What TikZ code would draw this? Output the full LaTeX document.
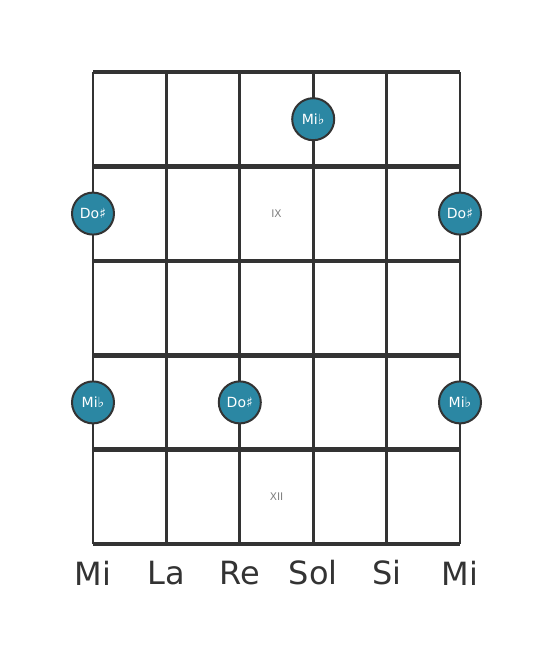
\documentclass[tikz,border=0pt]{standalone}
\usepackage{fontspec}
\setmainfont{DejaVu Sans}
\usepackage{xcolor}
\usetikzlibrary{positioning,calc}
\definecolor{nota}{HTML}{2B87A3}
\definecolor{traco}{HTML}{333333}
\tikzset{
    corda/.style={traco, line width=2.8pt},
    traste/.style={traco, line width=4.6pt},
    notabola/.style={circle, fill=nota, draw=traco, line width=2pt, minimum size=42pt, inner sep=0pt, text=white, font=\fontsize{14}{16}\selectfont},
    casa/.style={text=gray, font=\fontsize{10.5}{12}\selectfont},
    nomecorda/.style={text=traco, font=\fontsize{32}{35}\selectfont}
}
\begin{document}
\begin{tikzpicture}[x=1pt, y=-1pt]
        \useasboundingbox (0,0) rectangle (553,656);
        % Braço: cordas e trastes
        \def\cx{93}
        \def\dx{73.4}
        \def\ty{72}
        \def\dy{94.4}
        \foreach \i in {0,...,5}
            \draw[corda] (\cx+\i*\dx,\ty) -- (\cx+\i*\dx,\ty+5*\dy);
        \foreach \j in {0,...,5}
            \draw[traste] (\cx,\ty+\j*\dy) -- (\cx+5*\dx,\ty+\j*\dy);
        % Número das casas
        \node[casa] (casaIX) at (\cx+2.5*\dx,\ty+1.5*\dy) {IX};
        \node[casa] (casaXII) at (\cx+2.5*\dx,\ty+4.5*\dy) {XII};
        % Notas
        \node[notabola] (mib1) at (\cx+3*\dx,\ty+0.5*\dy) {Mi♭};
        \node[notabola] (dos1) at (\cx,\ty+1.5*\dy) {Do♯};
        \node[notabola] (dos2) at (\cx+5*\dx,\ty+1.5*\dy) {Do♯};
        \node[notabola] (mib2) at (\cx,\ty+3.5*\dy) {Mi♭};
        \node[notabola] (dos3) at (\cx+2*\dx,\ty+3.5*\dy) {Do♯};
        \node[notabola] (mib3) at (\cx+5*\dx,\ty+3.5*\dy) {Mi♭};
        % Nome das cordas
        \node[nomecorda] (c1) at (\cx,573) {Mi};
        \node[nomecorda] (c2) at (\cx+\dx,573) {La};
        \node[nomecorda] (c3) at (\cx+2*\dx,573) {Re};
        \node[nomecorda] (c4) at (\cx+3*\dx,573) {Sol};
        \node[nomecorda] (c5) at (\cx+4*\dx,573) {Si};
        \node[nomecorda] (c6) at (\cx+5*\dx,573) {Mi};
    \end{tikzpicture}
\end{document}
